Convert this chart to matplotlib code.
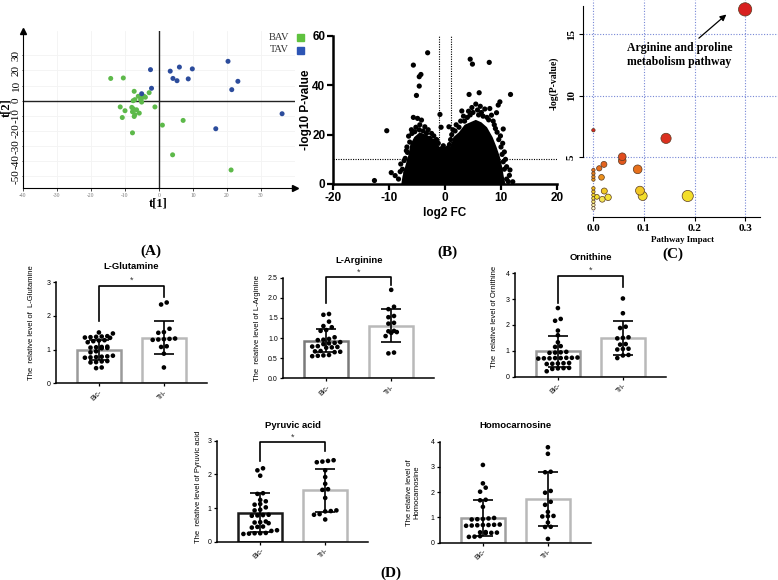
import matplotlib.pyplot as plt
import numpy as np
from matplotlib.colors import LinearSegmentedColormap, Normalize
from matplotlib.patches import Rectangle

plt.rcParams['axes.unicode_minus'] = False
SERIF = 'Liberation Serif'
SANS = 'Liberation Sans'

# ---------------- data ----------------
# (A) PLS-DA scores
bav_t1 = [-14.2, -10.5, -7.3, -6.1, -5.1, -4.4, -2.9, -7.6, -7.1, -8.0, -11.4, -10.0, -7.8, -7.1,
          -7.3, -5.8, -10.8, -5.1, -1.2, 1.0, 7.1, -7.8, 4.0, 21.2, -6.6, -5.4, -7.6, -4.0]
bav_t2 = [14.7, 15.0, 6.2, 2.9, 1.7, 2.9, 5.3, 0.0, 0.7, -4.4, -4.1, -6.6, -7.3, -9.2,
          -10.4, -8.2, -11.1, -0.9, -4.1, -16.1, -13.0, -21.2, -35.7, -45.7, -6.0, 0.7, -5.3, 2.3]
tav_t1 = [-2.5, -2.2, -5.1, 3.3, 6.0, 4.1, 5.3, 9.8, 8.6, 20.3, 23.2, 21.4, 16.7, 36.2]
tav_t2 = [20.5, 8.2, 4.6, 19.5, 22.2, 14.7, 13.2, 21.0, 14.4, 26.0, 12.8, 7.3, -18.5, -8.6]

# (B) volcano: separate features and the dense core outline
volcano_fc = [-3.1, -5.65, -4.3, -4.6, -4.6, -5.1,
              4.5, 4.9, 7.9, 4.3, 6.1, 11.7,
              -10.4, -12.6, -0.9, -0.7, 0.7,
              -9.6, -8.9, -8.0, -7.9, -7.1, -6.7, -6.8, -6.5, -5.4, -5.65,
              -4.9, -4.2, -3.6, -3.3, -2.7, -4.5, -6.0, -2.0, -1.5, -1.2,
              -0.5, 0.3, 0.8,
              1.2, 1.8, 2.5, 3.0, 3.5, 4.0, 4.5, 5.0, 5.5, 6.0,
              6.5, 7.1, 8.0, 7.5, 8.3, 9.2, 9.8, 9.5, 8.8, 9.3,
              10.4, 9.6, 10.0, 10.2, 10.4, 10.6, 11.6, 12.1, 11.0, 11.3,
              -6.3, -5.9, -5.2, -4.6, -3.9, -3.0, -2.4, -1.8, -6.9, -7.3, -7.6, -8.3, -7.0,
              1.0, 1.4, 2.0, 2.8, 3.3, 4.2, 4.8, 5.8, 6.3, 6.8, 7.8, 8.6, 9.0, 9.9, 10.3,
              10.6, 10.8, 11.0, 11.5, -0.3, 0.0, 0.5, -0.6, 0.6, -0.2, 0.2]
volcano_p = [53.2, 48.2, 44.4, 43.5, 39.7, 35.9,
             50.6, 48.6, 49.3, 36.3, 37.0, 36.3,
             21.6, 1.4, 28.2, 23.0, 23.2,
             4.6, 3.4, 5.0, 8.1, 10.4, 12.8, 15.0, 19.4, 21.2, 27.0,
             26.6, 25.9, 23.2, 20.5, 18.5, 24.0, 22.0, 19.5, 18.0, 16.5,
             14.5, 14.0, 16.0,
             20.0, 21.5, 23.0, 29.6, 25.5, 27.0, 28.0, 29.0, 32.4, 28.0,
             29.0, 30.4, 30.6, 27.0, 27.9, 28.9, 33.3, 32.0, 24.0, 21.0,
             22.3, 18.0, 15.0, 12.0, 9.0, 6.0, 5.7, 0.9, 2.0, 1.0,
             17.0, 20.5, 23.0, 22.0, 21.5, 22.0, 20.5, 17.5, 13.5, 9.5, 6.0, 2.0, 4.5,
             18.0, 22.0, 24.0, 25.5, 27.5, 29.5, 31.0, 30.0, 31.5, 27.5, 26.0, 25.5, 22.5, 19.5, 16.5,
             13.0, 10.0, 7.0, 3.5, 15.5, 12.5, 13.0, 14.0, 14.8, 13.5, 14.2]
core_fc = [-7.8, -7.6, -7.0, -6.5, -6.2, -5.5, -4.5, -3.5, -2.5, -1.5, -1.0, 0.0, 1.0,
           1.5, 2.5, 3.5, 4.5, 5.5, 6.5, 7.5, 8.5, 9.2, 9.8, 10.2, 10.5, 10.8]
core_p = [0, 3, 8, 12, 16, 19, 21, 20, 19, 17, 15, 13.5, 15,
          19, 21, 24, 25, 26, 25, 23, 19, 15, 11, 7, 3, 0]

# (C) pathway analysis
pathway_impact = [0.30, 0.1436, 0.0, 0.057, 0.057, 0.0208, 0.0115, 0.0, 0.0, 0.0, 0.0,
                  0.016, 0.0875, 0.0215, 0.092, 0.0974, 0.1865, 0.029, 0.0175, 0.0068,
                  0.0, 0.0, 0.0, 0.0, 0.0, 0.0, 0.0]
pathway_logp = [17.0, 6.54, 7.2, 5.05, 4.73, 4.43, 4.11, 3.97, 3.70, 3.43, 3.20,
                3.38, 4.03, 2.27, 2.30, 1.87, 1.87, 1.76, 1.60, 1.80,
                2.49, 2.22, 1.95, 1.68, 1.41, 1.14, 0.87]

# (D) relative levels
groups = ['Bic-', 'Tri-']
glut_bic = [1.51, 1.48, 1.40, 1.38, 1.36, 1.37, 1.39, 1.35, 1.27, 1.25, 1.22, 1.28, 1.08, 1.06, 1.05, 1.07,
            1.04, 1.09, 0.95, 0.92, 0.78, 0.80, 0.76, 0.79, 0.82, 0.77, 0.65, 0.62, 0.66, 0.63, 0.47, 0.45]
glut_tri = [2.40, 2.34, 1.62, 1.52, 1.50, 1.32, 1.30, 1.31, 1.29, 1.33, 1.10, 1.08, 0.88, 0.47]
glut_mean = [1.00, 1.36]
glut_sd = [0.30, 0.50]

arg_bic = [1.60, 1.58, 1.41, 1.30, 1.27, 1.20, 1.18, 1.02, 0.98, 0.96, 0.95, 0.90, 0.88, 0.87, 0.85,
           0.80, 0.79, 0.78, 0.77, 0.76, 0.68, 0.67, 0.66, 0.65, 0.58, 0.56, 0.55, 0.57]
arg_tri = [2.20, 1.78, 1.72, 1.55, 1.52, 1.38, 1.36, 1.18, 1.15, 1.13, 1.17, 1.05, 0.64, 0.62]
arg_mean = [0.94, 1.31]
arg_sd = [0.28, 0.41]

orn_bic = [2.65, 2.23, 2.16, 1.78, 1.60, 1.33, 1.18, 1.15, 0.96, 0.94, 0.93, 0.92, 0.74, 0.73, 0.72,
           0.71, 0.70, 0.72, 0.73, 0.71, 0.52, 0.51, 0.50, 0.53, 0.49, 0.34, 0.32, 0.33, 0.30, 0.21]
orn_tri = [3.02, 2.45, 1.93, 1.88, 1.52, 1.50, 1.48, 1.26, 1.24, 1.07, 1.05, 1.08, 0.82, 0.72, 0.84]
orn_mean = [0.98, 1.49]
orn_sd = [0.60, 0.66]

pyr_bic = [2.18, 2.12, 1.96, 1.44, 1.42, 1.24, 1.20, 1.12, 1.10, 1.02, 0.95, 0.93, 0.80, 0.78, 0.77,
           0.79, 0.60, 0.58, 0.55, 0.57, 0.45, 0.44, 0.42, 0.34, 0.32, 0.25, 0.24, 0.23, 0.26, 0.25]
pyr_tri = [2.42, 2.40, 2.38, 2.36, 2.12, 1.92, 1.72, 1.56, 1.54, 1.30, 0.93, 0.91, 0.90, 0.82, 0.80, 0.66]
pyr_mean = [0.86, 1.53]
pyr_sd = [0.58, 0.64]

homo_bic = [3.08, 2.35, 2.18, 2.02, 1.70, 1.68, 1.42, 0.98, 0.96, 0.93, 0.94, 0.92, 0.72, 0.70,
            0.68, 0.69, 0.67, 0.70, 0.71, 0.42, 0.40, 0.39, 0.41, 0.38, 0.26, 0.24, 0.23]
homo_tri = [3.78, 3.52, 2.81, 2.79, 2.05, 1.98, 1.62, 1.50, 1.22, 1.06, 1.04, 1.05, 0.80, 0.63, 0.62, 0.15]
homo_mean = [0.99, 1.73]
homo_sd = [0.71, 1.08]

# ---------------- layout helpers (pixels of the 778x580 canvas) ----------------
W, H = 778, 580


def rect(left, top, right, bottom):
    return [left / W, 1 - bottom / H, (right - left) / W, (bottom - top) / H]


def fx(x):
    return x / W


def fy(y):
    return 1 - y / H


fig = plt.figure(figsize=(W / 100, H / 100), dpi=100)

# ---------------- (A) score plot ----------------
ax = fig.add_axes(rect(23, 31, 295, 188))
ax.set_xlim(-40, 40)
ax.set_ylim(-57.6, 46)
ax.set_xticks(range(-40, 40, 10))
ax.set_yticks(range(-50, 40, 10))
ax.grid(color='#f3f3f3', lw=0.6)
ax.set_axisbelow(True)
ax.axhline(0, color='#222222', lw=1, zorder=2)
ax.axvline(0, color='#222222', lw=1, zorder=2)
ax.scatter(bav_t1, bav_t2, s=13, color='#5db94a', edgecolors='none', zorder=3)
ax.scatter(tav_t1, tav_t2, s=13, color='#2c4c9c', edgecolors='none', zorder=3)
for s in ['top', 'right']:
    ax.spines[s].set_visible(False)
for s in ['left', 'bottom']:
    ax.spines[s].set_linewidth(0.8)
ax.plot(0, 1, marker='^', ms=4, color='k', transform=ax.transAxes, clip_on=False)
ax.plot(1, 0, marker='>', ms=4, color='k', transform=ax.transAxes, clip_on=False)
ax.tick_params(axis='x', length=2, width=0.5, labelsize=4, labelcolor='#777777', pad=1.5)
ax.tick_params(axis='y', length=1, width=0.5, labelsize=8, pad=0.5)
for t in ax.get_xticklabels():
    t.set_family(SERIF)
for t in ax.get_yticklabels():
    t.set_family(SERIF)
    t.set_rotation(90)
    t.set_va('center')
fig.text(fx(158), fy(203), 't[1]', family=SERIF, weight='bold', fontsize=9, ha='center', va='center')
fig.text(fx(6), fy(108), 't[2]', family=SERIF, weight='bold', fontsize=9, ha='center', va='center',
         rotation=90)
for label, col, yy in [('BAV', '#5fc23f', 37), ('TAV', '#2d55b5', 50)]:
    fig.text(fx(289), fy(yy), label, family=SERIF, fontsize=7.5, ha='right', va='center', color='#333333')
    fig.patches.append(Rectangle((fx(297), fy(yy + 3.5)), 7 / W, 7 / H, color=col,
                                 transform=fig.transFigure, figure=fig))

# ---------------- (B) volcano ----------------
axb = fig.add_axes(rect(333, 36, 557, 184))
axb.fill(core_fc, core_p, color='black', zorder=2, lw=0)
axb.scatter(volcano_fc, volcano_p, s=14, color='black', edgecolors='none', zorder=3, clip_on=False)
axb.axvline(-1, color='black', lw=0.8, ls=(0, (1, 1.2)), zorder=1)
axb.axvline(1, color='black', lw=0.8, ls=(0, (1, 1.2)), zorder=1)
axb.axhline(10, color='black', lw=0.8, ls=(0, (1, 1.2)), zorder=1)
axb.set_xlim(-20, 20)
axb.set_ylim(0, 60)
axb.set_xticks([-20, -10, 0, 10, 20])
axb.set_yticks([0, 20, 40, 60])
for s in ['top', 'right']:
    axb.spines[s].set_visible(False)
for s in ['left', 'bottom']:
    axb.spines[s].set_linewidth(1.8)
axb.tick_params(length=4, width=1.6, labelsize=8.5, pad=1.5)
for t in axb.get_xticklabels() + axb.get_yticklabels():
    t.set_family(SANS)
    t.set_weight('bold')
fig.text(fx(445), fy(213), 'log2 FC', family=SANS, weight='bold', fontsize=8.5, ha='center', va='center')
fig.text(fx(306), fy(110), '-log10 P-value', family=SANS, weight='bold', fontsize=8.5, ha='center',
         va='center', rotation=90)

# ---------------- (C) pathway analysis ----------------
axc = fig.add_axes(rect(583, 0, 778, 217.3))
axc.set_xlim(-0.0206, 0.365)
axc.set_ylim(0.14, 17.76)
axc.set_xticks([0.0, 0.1, 0.2, 0.3])
axc.set_yticks([5, 10, 15])
axc.set_xticklabels(['0.0', '0.1', '0.2', '0.3'])
axc.grid(color='#7787d6', ls=(0, (1, 1.5)), lw=0.8, zorder=0)
heat = LinearSegmentedColormap.from_list(
    'heat', [(0.0, '#fdfde6'), (0.15, '#f3e02a'), (0.3, '#f0b020'), (0.45, '#e8781c'),
             (0.65, '#e0481e'), (1.0, '#d82020')])
impact = np.array(pathway_impact)
logp = np.array(pathway_logp)
radius_px = 1.7 + 9 * np.sqrt(impact)
sizes = (2 * radius_px * 0.72) ** 2
order = np.argsort(logp)
axc.scatter(impact[order], logp[order], s=sizes[order], c=logp[order],
            cmap=heat, norm=Normalize(0.8, 7.5, clip=True), edgecolors='#5a3a20', linewidths=0.5,
            zorder=3, clip_on=False)
for s in ['top', 'right']:
    axc.spines[s].set_visible(False)
axc.spines['left'].set_bounds(5, 17.3)
axc.spines['bottom'].set_bounds(0, 0.33)
axc.spines['left'].set_linewidth(0.8)
axc.spines['bottom'].set_linewidth(0.8)
axc.tick_params(length=3, width=0.8, labelsize=8, pad=2)
for t in axc.get_xticklabels() + axc.get_yticklabels():
    t.set_family(SERIF)
    t.set_weight('bold')
for t in axc.get_yticklabels():
    t.set_rotation(90)
    t.set_va('center')
axc.annotate('Arginine and proline\nmetabolism pathway', xy=(0.267, 16.73), xytext=(0.17, 13.3),
             ha='center', va='center', family=SERIF, weight='bold', fontsize=8.5, linespacing=1.25,
             arrowprops=dict(arrowstyle='-|>', color='black', lw=0.9, mutation_scale=9, shrinkA=1))
fig.text(fx(554), fy(83), '-log(P-value)', family=SERIF, weight='bold', fontsize=7, ha='center',
         va='center', rotation=90)
fig.text(fx(683), fy(240), 'Pathway Impact', family=SERIF, weight='bold', fontsize=6.5, ha='center',
         va='center')


# ---------------- (D) bar + dot panels ----------------
def swarm(values, step, dx):
    vals = np.array(values)
    idx = np.argsort(vals)
    offsets = np.zeros(len(vals))
    group = [idx[0]]
    rows = []
    for i in idx[1:]:
        if vals[i] - vals[group[0]] < step:
            group.append(i)
        else:
            rows.append(group)
            group = [i]
    rows.append(group)
    for g in rows:
        n = len(g)
        for k, i in enumerate(g):
            offsets[i] = (k - (n - 1) / 2) * dx
    return offsets


def bar_panel(left, top, bottom, ymax, yticks, title, title_off, ylabel, lab_xy, bic, tri, means, sds,
              bic_edge, bracket=None):
    right = left + 150.8
    axd = fig.add_axes(rect(left, top, right, bottom))
    px_per_unit = (bottom - top) / ymax
    axd.bar([0, 1], means, width=0.68, color='white', edgecolor=[bic_edge, '#b9b9b9'], linewidth=1.8,
            zorder=1)
    for i, vals in enumerate([bic, tri]):
        off = swarm(vals, 4.5 / px_per_unit, 5.6 / 65)
        axd.scatter(i + off, vals, s=11, color='black', edgecolors='none', zorder=3, clip_on=False)
    axd.errorbar([0, 1], means, yerr=sds, fmt='none', ecolor='black', elinewidth=1.2, capsize=7.5,
                 capthick=1.2, zorder=4)
    if bracket is not None:
        top_y, l_end, r_end = bracket
        axd.plot([0, 0, 1, 1], [l_end, top_y, top_y, r_end], color='black', lw=1.2, clip_on=False, zorder=4)
        axd.text(0.5, top_y + 5 / px_per_unit, '*', ha='center', va='center', fontsize=6.5, family=SANS,
                 color='#333333')
    axd.set_xlim(-0.66, 1.66)
    axd.set_ylim(0, ymax)
    axd.set_yticks(yticks)
    axd.set_xticks([0, 1])
    axd.set_xticklabels(groups, rotation=45, ha='right', rotation_mode='anchor')
    for s in ['top', 'right']:
        axd.spines[s].set_visible(False)
    for s in ['left', 'bottom']:
        axd.spines[s].set_linewidth(1.1)
    axd.tick_params(length=2.5, width=0.9, labelsize=5, pad=1.5)
    for t in axd.get_xticklabels() + axd.get_yticklabels():
        t.set_family(SANS)
    axd.text(0.5, 1 + title_off / (bottom - top), title, transform=axd.transAxes, ha='center', va='center',
             family=SANS, weight='bold', fontsize=6.8)
    axd.set_ylabel(ylabel, family=SANS, fontsize=5.5, linespacing=1.1)
    axd.yaxis.set_label_coords(*lab_xy)
    return axd


bar_panel(56, 282.3, 383.3, 3, [0, 1, 2, 3], 'L-Glutamine', 15.6, 'The  relative level of  L-Glutamine',
          (-0.14, 0.6), glut_bic, glut_tri, glut_mean, glut_sd, '#9a9a9a', (2.9, 1.86, 2.57))
bar_panel(283.3, 277.8, 378.3, 2.5, [0, 0.5, 1.0, 1.5, 2.0, 2.5], 'L-Arginine', 17.5,
          'The  relative level of L-Arginine', (-0.15, 0.5), arg_bic, arg_tri, arg_mean, arg_sd,
          '#7a7a7a', (2.51, 1.87, 2.32))
bar_panel(515, 273.1, 376.7, 4, [0, 1, 2, 3, 4], 'Ornithine', 15.5, 'The  relative level of Ornithine',
          (-0.11, 0.58), orn_bic, orn_tri, orn_mean, orn_sd, '#9a9a9a', (3.9, 2.83, 3.45))
bar_panel(217.3, 440.7, 541.7, 3, [0, 1, 2, 3], 'Pyruvic acid', 15.7, 'The  relative level of Pyruvic acid',
          (-0.1, 0.54), pyr_bic, pyr_tri, pyr_mean, pyr_sd, '#1a1a1a', (2.95, 2.40, 2.70))
bar_panel(440, 441.7, 542.7, 4, [0, 1, 2, 3, 4], 'Homocarnosine', 15.7, 'The relative level of\nHomocarnosine',
          (-0.13, 0.5), homo_bic, homo_tri, homo_mean, homo_sd, '#a0a0a0')

# ---------------- panel letters ----------------
for txt, x, y in [('(A)', 151, 251), ('(B)', 447, 252), ('(C)', 673, 254), ('(D)', 391, 573)]:
    fig.text(fx(x), fy(y), txt, family=SERIF, weight='bold', fontsize=11, ha='center', va='center')

fig.savefig('out.png', dpi=100)
